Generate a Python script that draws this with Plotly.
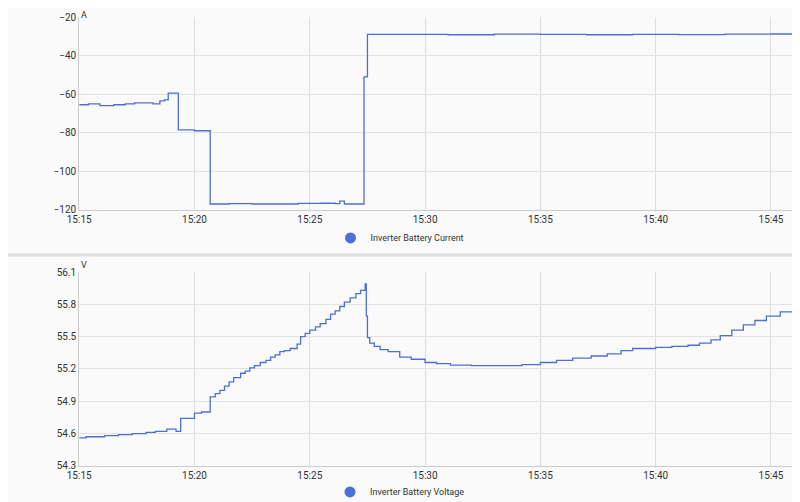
import plotly.graph_objects as go
import pandas as pd

base = pd.Timestamp("2024-01-01 15:15:00")

# Inverter Battery Current: minutes after 15:15 and amps
cur_min = [0, 0.4, 0.9, 1.5, 2.0, 2.4, 2.9, 3.2, 3.5, 3.7, 3.86, 4.3, 5.0, 5.68, 6.5, 7.5, 8.5, 9.5,
           10.5, 11.1, 11.3, 11.5, 12.35, 12.5, 14, 16, 18, 20, 22, 24, 26, 28, 30, 31.05]
cur_val = [-65.5, -65, -66, -65.5, -65, -64.5, -64.5, -65, -63.5, -63, -59.5, -78.5, -79, -117, -116.8,
           -117, -117, -116.7, -116.6, -116.8, -115.5, -117, -51, -29, -29, -29.2, -28.9, -29, -29.2, -29,
           -29.1, -28.9, -28.8, -28.8]

# Inverter Battery Voltage: minutes after 15:15 and volts
vol_min = [0, 0.3, 1.1, 1.7, 2.3, 2.9, 3.3, 3.8, 4.2, 4.4, 5.0, 5.3, 5.68, 5.9, 6.1, 6.3, 6.5, 6.7, 7.0,
           7.2, 7.4, 7.6, 7.85, 8.1, 8.3, 8.5, 8.7, 8.9, 9.15, 9.45, 9.6, 9.8, 10.0, 10.25, 10.45, 10.7,
           10.9, 11.1, 11.3, 11.5, 11.75, 12.0, 12.2, 12.4, 12.45, 12.5, 12.6, 12.8, 13.05, 13.4, 13.9,
           14.4, 15.0, 15.5, 16.1, 17.0, 18.25, 19.2, 20.0, 20.7, 21.4, 22.2, 22.9, 23.5, 24.0, 25.0,
           25.7, 26.4, 26.9, 27.4, 27.8, 28.3, 28.8, 29.3, 29.8, 30.4, 31.05]
vol_val = [54.56, 54.57, 54.58, 54.59, 54.60, 54.61, 54.62, 54.64, 54.62, 54.74, 54.79, 54.80, 54.94,
           54.97, 55.00, 55.04, 55.08, 55.12, 55.16, 55.18, 55.21, 55.23, 55.26, 55.28, 55.31, 55.33,
           55.36, 55.37, 55.39, 55.43, 55.50, 55.53, 55.56, 55.59, 55.62, 55.66, 55.71, 55.74, 55.78,
           55.82, 55.86, 55.90, 55.93, 55.99, 55.69, 55.49, 55.44, 55.41, 55.38, 55.36, 55.31,
           55.29, 55.26, 55.25, 55.235, 55.23, 55.23, 55.24, 55.26, 55.28, 55.30, 55.32, 55.34, 55.37,
           55.39, 55.40, 55.41, 55.42, 55.44, 55.47, 55.51, 55.56, 55.61, 55.65, 55.69, 55.73, 55.77]

cur_x = [base + pd.Timedelta(minutes=m) for m in cur_min]
vol_x = [base + pd.Timedelta(minutes=m) for m in vol_min]

blue = "#4a6fd6"
fig = go.Figure()
fig.add_trace(go.Scatter(x=cur_x, y=cur_val, mode="lines", line=dict(shape="hv", color=blue, width=1.3),
                         showlegend=False, xaxis="x", yaxis="y"))
fig.add_trace(go.Scatter(x=[None], y=[None], mode="markers", marker=dict(size=11, color=blue),
                         name="Inverter Battery Current", xaxis="x", yaxis="y", legend="legend"))
fig.add_trace(go.Scatter(x=vol_x, y=vol_val, mode="lines", line=dict(shape="hv", color=blue, width=1.3),
                         showlegend=False, xaxis="x2", yaxis="y2"))
fig.add_trace(go.Scatter(x=[None], y=[None], mode="markers", marker=dict(size=11, color=blue),
                         name="Inverter Battery Voltage", xaxis="x2", yaxis="y2", legend="legend2"))

xr = [base, base + pd.Timedelta(minutes=31.05)]
ax = dict(range=xr, tickformat="%H:%M", dtick=300000, gridcolor="#dddddd", showline=True,
          linecolor="#cccccc", ticks="", tickfont=dict(size=10, color="#333"), zeroline=False,
          automargin=False)
ay = dict(gridcolor="#e3e3e3", showline=True, linecolor="#cccccc", ticks="", zeroline=False,
          tickfont=dict(size=10, color="#333"), automargin=False)
fig.update_layout(
    width=800, height=502, margin=dict(l=0, r=0, t=0, b=0),
    paper_bgcolor="#fafafa", plot_bgcolor="#fafafa",
    font=dict(family="Roboto", color="#333"),
    xaxis=dict(ax, domain=[0.089, 0.984], anchor="y"),
    yaxis=dict(ay, domain=[0.598, 0.982], range=[-120, -20], dtick=20, anchor="x"),
    xaxis2=dict(ax, domain=[0.089, 0.984], anchor="y2"),
    yaxis2=dict(ay, domain=[0.088, 0.474], range=[54.3, 56.1], dtick=0.3, tickformat=".1f", anchor="x2"),
    legend=dict(x=0.49, y=0.542, xanchor="center", yanchor="middle", orientation="h",
                font=dict(size=9), bgcolor="rgba(0,0,0,0)"),
    legend2=dict(x=0.49, y=0.036, xanchor="center", yanchor="middle", orientation="h",
                 font=dict(size=9), bgcolor="rgba(0,0,0,0)"),
    annotations=[
        dict(text="A", x=0.089, y=0.987, xref="paper", yref="paper", showarrow=False, font=dict(size=9),
             xanchor="left", yanchor="middle"),
        dict(text="V", x=0.089, y=0.488, xref="paper", yref="paper", showarrow=False, font=dict(size=9),
             xanchor="left", yanchor="middle"),
    ],
    shapes=[
        dict(type="line", xref="paper", yref="paper", x0=-0.02, x1=1.02, y0=0.508, y1=0.508,
             line=dict(color="#e0e0e0", width=3)),
    ],
)
fig.write_html("out.html")
